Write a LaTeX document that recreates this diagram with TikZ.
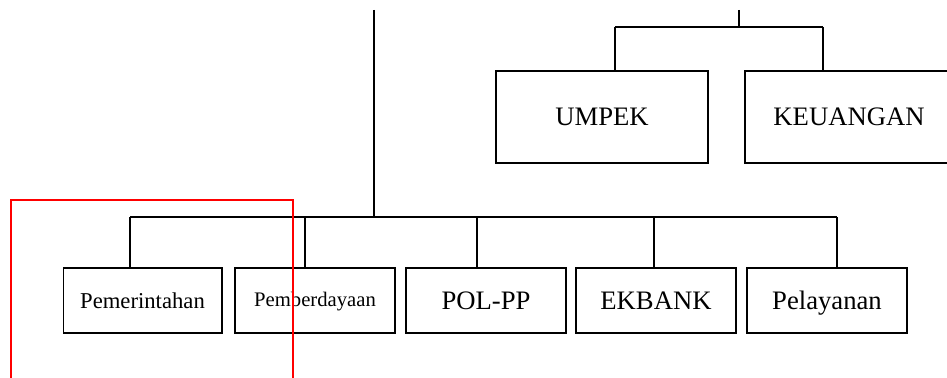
\documentclass[tikz,border=0pt]{standalone}
\usepackage{fontspec}
\setmainfont{Liberation Serif}
\usetikzlibrary{positioning,calc}
\definecolor{hilite}{RGB}{255,0,0}

\begin{document}
\begin{tikzpicture}[x=0.75pt,y=-0.75pt,
  unitbox/.style={draw=black, line width=1pt, inner sep=0pt, minimum width=120pt, minimum height=48.75pt,
    text depth=0pt},
  bigtext/.style={font=\fontsize{20}{24}\selectfont, text height=13.4pt},
  link/.style={draw=black, line width=1pt}]
\useasboundingbox (0,0) rectangle (947,378);
\clip (0,0) rectangle (947,378);
% Trunks from above
\coordinate (top) at (374,10);
\coordinate (sek) at (739,10);
% Staff units
\node[unitbox, bigtext, minimum width=159pt, minimum height=69pt] (umpek) at (602,117) {UMPEK};
\node[unitbox, bigtext, minimum width=156pt, minimum height=69pt] (keu) at (849,117) {KEUANGAN};
% Sections
\node[unitbox, minimum width=119pt, font=\fontsize{17}{20}\selectfont, text height=11.3pt] (pem) at (142.5,300.5) {Pemerintahan};
\node[unitbox, font=\fontsize{15.5}{18}\selectfont, text height=9pt] (pbd) at (315,300.5) {Pemberdayaan};
\node[unitbox, bigtext] (pol) at (486,300.5) {POL-PP};
\node[unitbox, bigtext] (ekb) at (656,300.5) {EKBANK};
\node[unitbox, bigtext] (pel) at (827,300.5) {Pelayanan};

% Staff bus
\coordinate (sbus) at (739,27);
\coordinate (s1) at (615,27);
\coordinate (s2) at (823,27);
\draw[link] (sek) -- (sbus);
\draw[link] (s1) -- (s2);
\draw[link] (s1) -- (s1 |- umpek.north);
\draw[link] (s2) -- (s2 |- keu.north);

% Section bus
\coordinate (bus) at (374,217);
\coordinate (b1) at (130,217);
\coordinate (b2) at (305,217);
\coordinate (b3) at (477,217);
\coordinate (b4) at (654,217);
\coordinate (b5) at (837,217);
\draw[link] (top) -- (bus);
\draw[link] (b1) -- (b5);
\draw[link] (b1) -- (b1 |- pem.north);
\draw[link] (b2) -- (b2 |- pbd.north);
\draw[link] (b3) -- (b3 |- pol.north);
\draw[link] (b4) -- (b4 |- ekb.north);
\draw[link] (b5) -- (b5 |- pel.north);

% Highlight
\draw[hilite, line width=1.5pt] (11,385) |- (293,200) -- (293,385);
\end{tikzpicture}
\end{document}
